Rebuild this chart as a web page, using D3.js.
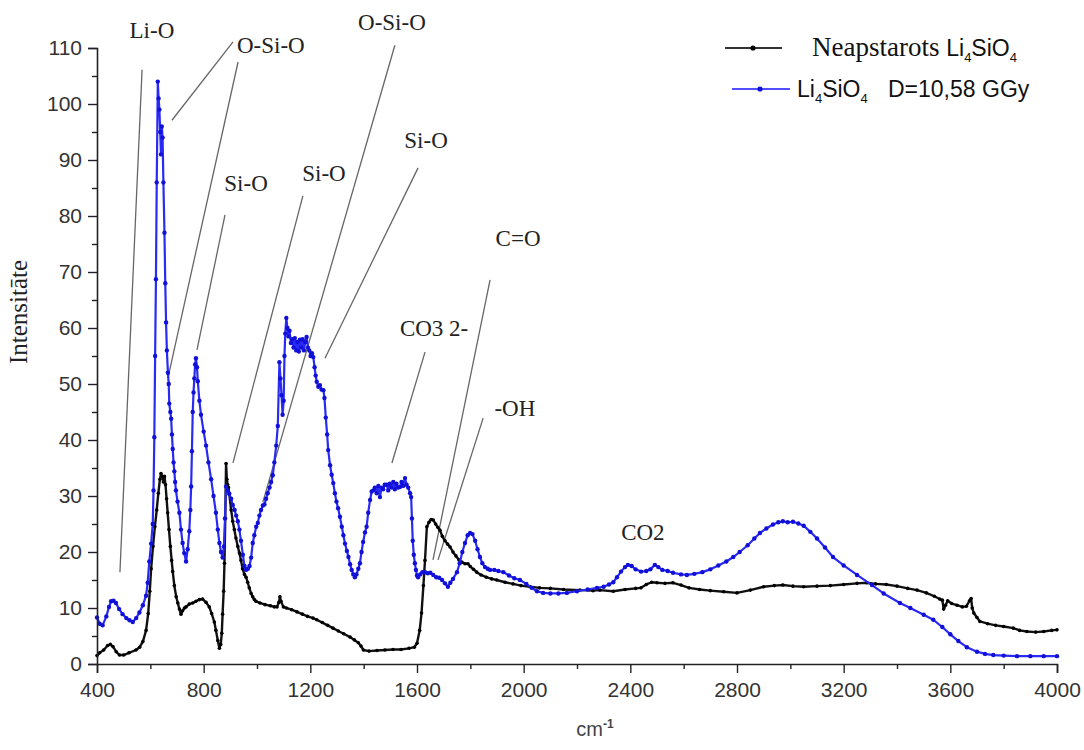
<!DOCTYPE html>
<html><head><meta charset="utf-8">
<script src="https://cdn.jsdelivr.net/npm/d3@7"></script>
<style>
html,body{margin:0;padding:0;background:#fff;}
svg{display:block;}
</style></head>
<body>
<svg id="chart" width="1084" height="750"></svg>
<script>
// ---------------- DATA ----------------
const xTicks = [400,800,1200,1600,2000,2400,2800,3200,3600,4000];
const xMinorTicks = [600,1000,1400,1800,2200,2600,3000,3400,3800];
const yTicks = [0,10,20,30,40,50,60,70,80,90,100,110];
const yMinorTicks = [5,15,25,35,45,55,65,75,85,95,105];

const seriesNames = ["Neapstarots", "D=10,58 GGy"];

// Non-irradiated Li4SiO4 (black)
const wnBlack = [400,410,425,440,450,460,472,484,500,520,546,560,572,584,592,598,603,610,617,624,630,636,640,645,649,653,657,661,665,670,675,680,684,690,697,703,709,715,721,728,734,746,759,771,784,796,809,821,830,840,846,853,859,864,868,871,875,878,881,884,887,890,893,896,903,909,915,921,928,934,940,946,953,959,965,971,978,984,990,996,1011,1030,1050,1065,1075,1082,1086,1090,1099,1110,1130,1150,1170,1190,1210,1224,1245,1265,1285,1305,1325,1349,1365,1380,1390,1399,1420,1450,1480,1510,1540,1570,1590,1600,1610,1617,1624,1630,1637,1645,1653,1661,1670,1678,1686,1695,1705,1715,1724,1735,1746,1757,1768,1780,1791,1800,1812,1824,1840,1860,1880,1899,1930,1960,1990,2024,2060,2100,2150,2211,2260,2286,2336,2380,2420,2440,2460,2480,2500,2530,2560,2590,2620,2660,2700,2750,2800,2850,2900,2940,2972,3010,3050,3100,3150,3200,3250,3287,3320,3360,3400,3440,3475,3510,3540,3560,3570,3575,3582,3590,3605,3625,3645,3660,3672,3678,3682,3688,3700,3711,3740,3770,3800,3836,3860,3887,3920,3950,3980,4000];
const intBlack = [1.5,2,2.5,3.3,3.5,3.1,2.2,1.6,1.6,2,2.5,3,4,6,9,13,17,21,24.5,27.5,30.5,33,34,33.5,32.5,33.5,32,29.5,27,24,21,18.5,16.5,14,12,10.9,9.8,8.9,9.5,10,10.2,10.7,10.9,11.2,11.5,11.6,11,10.2,9,7.5,6,4.2,2.8,3.5,5.5,8.9,13,18,26,35.8,33,32,31.5,30.4,27.5,25.5,24,22.5,21,19.8,18.5,17,16,15.5,14.6,13.6,12.6,12,11.5,11.2,10.9,10.6,10.4,10.2,10.2,11,12,11.2,10.2,10,9.7,9.3,8.9,8.5,8.2,7.9,7.4,6.9,6.4,5.9,5.4,4.8,4.3,3.8,3.2,2.5,2.3,2.4,2.5,2.6,2.6,2.8,3,3.7,6,9.1,14,18.5,24.5,25.3,25.8,25.7,25,24.4,23.9,22.8,22,21.4,20.9,20,19.3,18.6,18.2,17.9,17.9,17.4,16.9,16.4,15.9,15.5,15.2,15,14.6,14.3,14,13.8,13.6,13.5,13.3,13.2,13.1,13.2,13,13.3,13.5,13.6,14.2,14.6,14.5,14.4,14.5,14.1,13.6,13.3,13.1,12.9,12.7,13.2,13.8,14,14.1,13.9,13.8,13.9,14,14.2,14.4,14.5,14.3,14.2,13.9,13.5,13.2,12.7,12.1,11.6,11.4,9.8,10.5,11.3,10.8,10.5,10.2,10.3,11.3,11.7,10,9.1,8.3,7.6,7.2,6.9,6.7,6.4,6,5.8,5.7,5.8,6,6.1];

// Irradiated Li4SiO4, D=10,58 GGy (blue)
const wnBlue = [400,410,421,435,445,453,462,471,483,496,510,522,534,547,559,572,584,590,596,603,609,612,615,618,621,624,628,631,634,637,640,643,646,649,653,656,659,662,666,669,671,675,678,681,684,687,690,693,696,702,709,715,721,727,734,740,746,750,753,756,759,762,765,768,771,775,778,784,790,800,809,818,828,837,846,853,859,865,871,876,880,884,890,896,903,909,916,922,928,934,940,947,953,959,966,972,978,984,990,997,1003,1009,1015,1022,1028,1034,1040,1047,1053,1059,1065,1072,1078,1084,1088,1092,1096,1100,1103,1106,1110,1114,1118,1122,1127,1132,1137,1142,1147,1152,1157,1161,1166,1171,1176,1181,1186,1191,1196,1201,1206,1211,1216,1220,1224,1230,1236,1242,1249,1253,1258,1263,1267,1274,1280,1286,1292,1298,1304,1311,1318,1324,1330,1337,1343,1349,1355,1361,1367,1373,1380,1386,1392,1398,1405,1411,1417,1424,1430,1436,1442,1449,1455,1461,1467,1473,1479,1486,1492,1498,1504,1511,1517,1523,1529,1536,1542,1548,1555,1561,1567,1574,1578,1581,1584,1588,1592,1596,1600,1604,1612,1620,1630,1640,1650,1661,1672,1683,1694,1705,1716,1725,1735,1750,1760,1770,1780,1790,1799,1808,1818,1827,1836,1845,1855,1865,1874,1890,1905,1924,1945,1965,1986,2010,2030,2050,2073,2100,2130,2162,2200,2240,2275,2300,2320,2336,2350,2365,2380,2391,2405,2420,2440,2460,2475,2492,2505,2520,2540,2560,2590,2612,2640,2670,2700,2730,2760,2786,2810,2840,2865,2886,2910,2935,2955,2972,2990,3010,3030,3050,3075,3100,3130,3160,3200,3250,3306,3350,3411,3450,3500,3536,3570,3600,3630,3662,3700,3730,3761,3800,3850,3900,3950,4000];
const intBlue = [8.3,7.2,6.9,8.5,10.2,11.2,11.3,10.9,9.8,8.9,8.2,7.8,7.5,8.2,9.2,10.5,12.2,14.5,18.3,21.5,25,31,40.5,55,68.7,86,104,101,99,95,91,96,94,86,77,68,61,56,52,50,46.5,45,43.8,41,38.4,36,34.4,32.5,31,29,27,24,21.6,19.8,18.3,20.5,23.7,27.5,31.7,38,45,48.5,51,53.5,54.6,53,50.5,47,44.5,41.5,39,36,33,30,27,24,21.6,20,19,21,26,31.7,31,30.4,29.5,28.4,27.5,26.5,25.5,24,22,19.5,17.5,16.8,17,17.5,19,21.6,23,24.5,25.2,26.5,27.5,28.3,28.5,29.5,30.5,31.5,32.5,33.7,36,39,42.5,53.9,51,48,44.5,47,55,59,61.8,60,58.5,59.5,57.3,58,56.5,58.2,56,57.5,55.8,57.9,56.5,58,56,57.5,58.4,56.5,56,55,55.5,54.8,53,51.5,50.4,49.5,49.8,49,48.9,47.5,44,41,38.2,35.5,33.8,32.3,30.5,29,27.8,26.3,24.5,23,21.5,20.2,19.1,17.8,16.8,16,15.5,16,17,18,20,21.8,23.5,24.5,27,29.3,30.8,31,31.5,30.5,31.8,29.8,31.5,31.2,32,32,31,32.2,31.5,32.5,31.2,32.2,31.5,31.6,32.5,31.8,33.2,32,31.5,30.5,29.8,26,22,19.5,18,16.8,15.8,15.5,16,16.4,16.4,16.2,16.3,15.9,15.5,15.4,15,14.4,13.8,14.5,15.2,16.4,18,20,21.6,23,23.4,23.2,22,20.5,19.1,18,17.3,17,16.8,16.8,16.6,16.4,15.8,15.3,15,14.3,13.6,13,12.7,12.6,12.6,12.7,13,13.3,13.6,13.8,14.2,14.6,15.5,16.5,17.3,17.7,17.5,16.9,16.5,16.6,16.9,17.7,17.3,16.8,16.6,16.3,16,15.9,16.1,16.4,16.9,17.6,18.3,19.1,20,21.2,22.4,23.4,24.2,24.9,25.3,25.5,25.3,25.4,25.1,24.7,23.6,22.4,20.8,19.1,17.6,15.9,14.1,12.6,10.9,10,8.8,7.9,6.6,5.3,4.1,3,2.2,1.8,1.6,1.5,1.4,1.4,1.4,1.4];

// Band annotations: label, label position (cm-1, intensity), leader line from -> to
const annLabels = ["Li-O","O-Si-O","O-Si-O","Si-O","Si-O","Si-O","C=O","CO3 2-","-OH","CO2"];
const annLabelX = [606,1052,1506,959,1251,1634,1979,1664,1967,2447];
const annLabelY = [113.2,110.5,114.6,85.9,87.7,93.6,76.1,60,45.7,23.6];
const leaderX1 = [569,910,929,880,1172,1517,1604,1630,1874,1848];
const leaderY1 = [106.1,111.1,107.5,80.2,83.6,110.5,88.6,55.7,68.6,43.9];
const leaderX2 = [486,681,666,775,910,1022,1255,1506,1660,1679];
const leaderY2 = [16.4,97.1,51.1,56.1,35.9,28.9,54.6,35.9,18.6,18.6];

// ---------------- CHART ----------------
const svg = d3.select("#chart");
const sans = "'Liberation Sans', Arial, Helvetica, sans-serif";
const serif = "'Liberation Serif', 'Times New Roman', Times, serif";

const x = d3.scaleLinear().domain([400,4000]).range([97,1057]);
const y = d3.scaleLinear().domain([0,110]).range([664,48]);

const blackData = wnBlack.map((w,i)=>({x:w,y:intBlack[i]}));
const blueData = wnBlue.map((w,i)=>({x:w,y:intBlue[i]}));

// leader lines
const ann = annLabels.map((t,i)=>({t, lx:annLabelX[i], ly:annLabelY[i], x1:leaderX1[i], y1:leaderY1[i], x2:leaderX2[i], y2:leaderY2[i]}));
svg.append("g").selectAll("line").data(ann).join("line")
  .attr("x1",d=>x(d.x1)).attr("y1",d=>y(d.y1))
  .attr("x2",d=>x(d.x2)).attr("y2",d=>y(d.y2))
  .attr("stroke","#666").attr("stroke-width",1.3);

const line = d3.line().x(d=>x(d.x)).y(d=>y(d.y));

// black series
svg.append("path").datum(blackData).attr("d",line)
  .attr("fill","none").attr("stroke","#111").attr("stroke-width",2.4).attr("stroke-linejoin","round");
svg.append("g").selectAll("circle").data(blackData).join("circle")
  .attr("cx",d=>x(d.x)).attr("cy",d=>y(d.y)).attr("r",1.8).attr("fill","#000");

// blue series
svg.append("path").datum(blueData).attr("d",line)
  .attr("fill","none").attr("stroke","#2a2af5").attr("stroke-width",2.2).attr("stroke-linejoin","round");
svg.append("g").selectAll("circle").data(blueData).join("circle")
  .attr("cx",d=>x(d.x)).attr("cy",d=>y(d.y)).attr("r",2.2).attr("fill","#1010d8");

// axes
const xAxis = svg.append("g").attr("transform",`translate(0,${y(0)})`)
  .call(d3.axisBottom(x).tickValues(xTicks).tickSize(9).tickPadding(6).tickFormat(d3.format("d")));
svg.append("g").attr("transform",`translate(0,${y(0)})`)
  .call(d3.axisBottom(x).tickValues(xMinorTicks).tickSize(5).tickFormat(""))
  .select(".domain").remove();
const yAxis = svg.append("g").attr("transform",`translate(${x(400)},0)`)
  .call(d3.axisLeft(y).tickValues(yTicks).tickSize(9).tickPadding(6).tickFormat(d3.format("d")));
svg.append("g").attr("transform",`translate(${x(400)},0)`)
  .call(d3.axisLeft(y).tickValues(yMinorTicks).tickSize(5).tickFormat(""))
  .select(".domain").remove();

svg.selectAll(".domain").attr("stroke","#222").attr("stroke-width",1.6);
svg.selectAll(".tick line").attr("stroke","#222").attr("stroke-width",1.4);
svg.selectAll(".tick text").attr("font-family",sans).attr("font-size",21).attr("fill","#333");
xAxis.selectAll(".tick text").attr("dy","0.85em");

// axis titles
svg.append("text").attr("transform","translate(27,312) rotate(-90)")
  .attr("text-anchor","middle").attr("font-family",serif).attr("font-size",25).attr("fill","#222")
  .text("Intensitāte");
const xt = svg.append("text").attr("x",595).attr("y",736).attr("text-anchor","middle")
  .attr("font-family",sans).attr("font-size",20).attr("fill","#444");
xt.append("tspan").text("cm");
xt.append("tspan").attr("dy",-8).attr("font-size",12).attr("font-weight","bold").text("-1");

// annotation labels
svg.append("g").selectAll("text").data(ann).join("text")
  .attr("x",d=>x(d.lx)).attr("y",d=>y(d.ly)).attr("dy","0.35em")
  .attr("text-anchor","middle").attr("font-family",serif).attr("font-size",23).attr("fill","#222")
  .text(d=>d.t);

// legend
const lg = svg.append("g");
lg.append("line").attr("x1",725).attr("x2",782).attr("y1",48).attr("y2",48).attr("stroke","#333").attr("stroke-width",2);
lg.append("circle").attr("cx",753).attr("cy",48).attr("r",2.6).attr("fill","#000");
const t1 = lg.append("text").attr("x",812).attr("y",56).attr("fill","#111");
t1.append("tspan").attr("font-family",serif).attr("font-size",27).text(seriesNames[0]+" ");
t1.append("tspan").attr("font-family",sans).attr("font-size",23).text("Li");
t1.append("tspan").attr("font-family",sans).attr("font-size",13).attr("dy",6).text("4");
t1.append("tspan").attr("font-family",sans).attr("font-size",23).attr("dy",-6).text("SiO");
t1.append("tspan").attr("font-family",sans).attr("font-size",13).attr("dy",6).text("4");

lg.append("line").attr("x1",732).attr("x2",790).attr("y1",89).attr("y2",89).attr("stroke","#5050ff").attr("stroke-width",2);
lg.append("circle").attr("cx",760).attr("cy",89).attr("r",2.6).attr("fill","#1010d8");
const t2 = lg.append("text").attr("x",797).attr("y",97).attr("fill","#111").attr("font-family",sans);
t2.append("tspan").attr("font-size",23).text("Li");
t2.append("tspan").attr("font-size",13).attr("dy",6).text("4");
t2.append("tspan").attr("font-size",23).attr("dy",-6).text("SiO");
t2.append("tspan").attr("font-size",13).attr("dy",6).text("4");
t2.append("tspan").attr("font-size",23).attr("dy",-6).attr("x",888).text(seriesNames[1]);
</script>
</body></html>
